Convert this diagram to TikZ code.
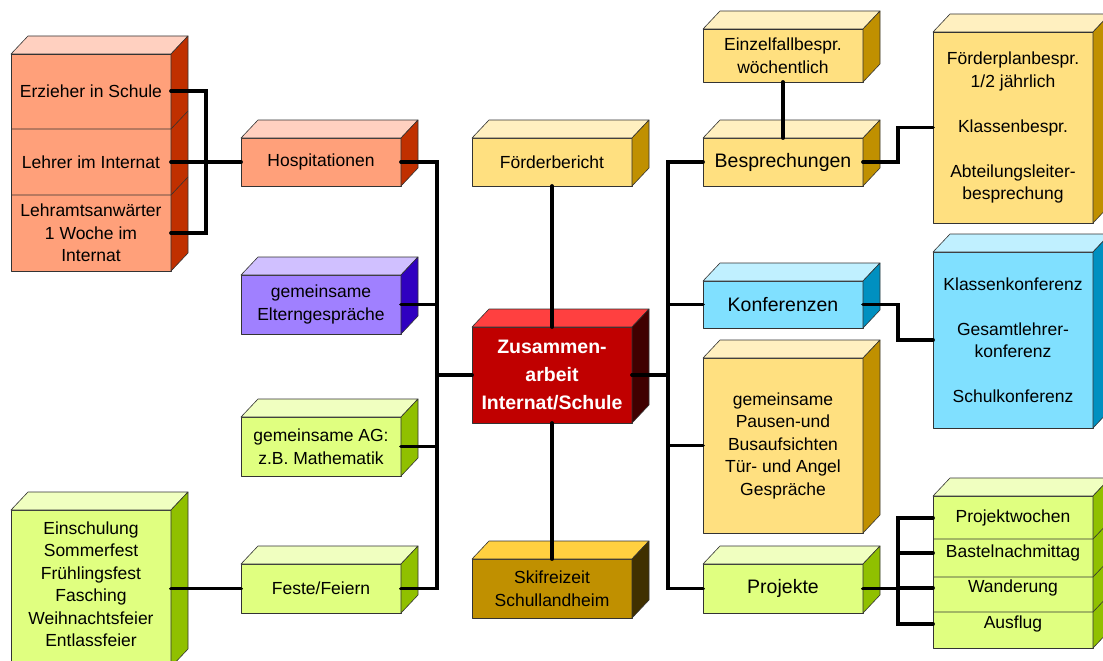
\documentclass[tikz,border=0pt]{standalone}
\usepackage{fontspec}
\setmainfont{Liberation Sans}
\usetikzlibrary{calc}
\definecolor{salF}{RGB}{255,160,122}
\definecolor{salT}{RGB}{255,208,192}
\definecolor{salS}{RGB}{192,48,0}
\definecolor{purF}{RGB}{160,128,255}
\definecolor{purT}{RGB}{208,192,255}
\definecolor{purS}{RGB}{48,0,192}
\definecolor{grnF}{RGB}{224,255,128}
\definecolor{grnT}{RGB}{240,255,192}
\definecolor{grnS}{RGB}{144,192,0}
\definecolor{yelF}{RGB}{255,224,128}
\definecolor{yelT}{RGB}{255,240,192}
\definecolor{yelS}{RGB}{192,144,0}
\definecolor{bluF}{RGB}{128,224,255}
\definecolor{bluT}{RGB}{192,240,255}
\definecolor{bluS}{RGB}{0,144,192}
\definecolor{redF}{RGB}{192,0,0}
\definecolor{redT}{RGB}{255,64,64}
\definecolor{redS}{RGB}{64,0,0}
\definecolor{skiF}{RGB}{192,144,0}
\definecolor{skiT}{RGB}{255,208,64}
\definecolor{skiS}{RGB}{64,48,0}
\tikzset{
  face/.style={draw=black!80, line width=0.6pt, line join=round},
  box/.style={face, rectangle, inner sep=2pt, outer sep=0pt, align=center,
    font=\fontsize{17.5}{22.5}\selectfont, minimum width=160pt},
  bigbox/.style={box, font=\fontsize{19.5}{24}\selectfont},
  txt/.style={rectangle, inner sep=0pt, outer sep=0pt, align=center,
    font=\fontsize{17.5}{22.5}\selectfont, minimum width=160pt},
  link/.style={line width=3.8pt, line cap=round, line join=miter},
}
\newcommand\cubeFaces[3]{%
  \filldraw[face, fill=#2] (#1.north west) -- ++(17,-18) -- ([shift={(17,-18)}]#1.north east) -- (#1.north east) -- cycle;
  \filldraw[face, fill=#3] (#1.north east) -- ++(17,-18) -- ([shift={(17,-18)}]#1.south east) -- (#1.south east) -- cycle;
}
\begin{document}
\begin{tikzpicture}[x=1pt, y=-1pt]
\useasboundingbox (0,0) rectangle (1103,661);

% left stack
\node[box, fill=salF, minimum height=217pt] (lstack) at (91,162.5) {};
\cubeFaces{lstack}{salT}{salS}
\draw[face] (11,129) -- (171,129) -- ++(17,-18);
\draw[face] (11,195) -- (171,195) -- ++(17,-18);
\node[txt] (erz) at (91,91) {Erzieher in Schule};
\node[txt] (leh) at (91,162) {Lehrer im Internat};
\node[txt] (lam) at (91,233) {Lehramtsanwärter\\1 Woche im\\Internat};

\node[box, fill=salF, minimum height=48pt] (hosp) at (321,162) {Hospitationen};
\cubeFaces{hosp}{salT}{salS}
\node[box, fill=purF, minimum height=59pt] (eltern) at (321,304.5) {gemeinsame\\Elterngespräche};
\cubeFaces{eltern}{purT}{purS}
\node[box, fill=grnF, minimum height=59pt] (ag) at (321,446.5) {gemeinsame AG:\\z.B. Mathematik};
\cubeFaces{ag}{grnT}{grnS}
\node[box, fill=grnF, minimum height=49pt] (feste) at (321,588.5) {Feste/Feiern};
\cubeFaces{feste}{grnT}{grnS}
\node[box, fill=grnF, minimum height=157pt] (einsch) at (91,588.5) {};
\cubeFaces{einsch}{grnT}{grnS}
\node[txt] (einschtxt) at (91,584) {Einschulung\\Sommerfest\\Frühlingsfest\\Fasching\\Weihnachtsfeier\\Entlassfeier};

% middle column
\node[box, fill=yelF, minimum height=48pt] (foerd) at (552,162) {Förderbericht};
\cubeFaces{foerd}{yelT}{yelS}
\node[box, fill=redF, minimum height=96pt, text=white,
  font=\fontsize{19.5}{28}\selectfont\bfseries] (center) at (552,375) {Zusammen-\\arbeit\\Internat/Schule};
\cubeFaces{center}{redT}{redS}
\node[box, fill=skiF, minimum height=59pt] (ski) at (552,588.5) {Skifreizeit\\Schullandheim};
\cubeFaces{ski}{skiT}{skiS}

% right column
\node[box, fill=yelF, minimum height=53pt] (einzel) at (783,55.5) {Einzelfallbespr.\\wöchentlich};
\cubeFaces{einzel}{yelT}{yelS}
\node[bigbox, fill=yelF, minimum height=48pt] (besp) at (783,162) {Besprechungen};
\cubeFaces{besp}{yelT}{yelS}
\node[bigbox, fill=bluF, minimum height=47pt] (konf) at (783,304.5) {Konferenzen};
\cubeFaces{konf}{bluT}{bluS}
\node[box, fill=yelF, minimum height=175pt] (pausen) at (783,445.5) {gemeinsame\\Pausen-und\\Busaufsichten\\Tür- und Angel\\Gespräche};
\cubeFaces{pausen}{yelT}{yelS}
\node[bigbox, fill=grnF, minimum height=49pt] (proj) at (783,588.5) {Projekte};
\cubeFaces{proj}{grnT}{grnS}

\node[box, fill=yelF, minimum height=191pt] (fplan) at (1013,127.5) {Förderplanbespr.\\1/2 jährlich\\[22.5pt]Klassenbespr.\\[22.5pt]Abteilungsleiter-\\besprechung};
\cubeFaces{fplan}{yelT}{yelS}
\node[box, fill=bluF, minimum height=176pt] (kkonf) at (1013,340) {Klassenkonferenz\\[22.5pt]Gesamtlehrer-\\konferenz\\[22.5pt]Schulkonferenz};
\cubeFaces{kkonf}{bluT}{bluS}

\node[box, fill=grnF, minimum height=152pt] (pstack) at (1013,572) {};
\cubeFaces{pstack}{grnT}{grnS}
\draw[face] (933,539) -- (1093,539) -- ++(17,-18);
\draw[face] (933,577) -- (1093,577) -- ++(17,-18);
\draw[face] (933,612) -- (1093,612) -- ++(17,-18);
\node[txt] (pw1) at (1013,518) {Projektwochen};
\node[txt] (pw2) at (1013,553) {Bastelnachmittag};
\node[txt] (pw3) at (1013,588) {Wanderung};
\node[txt] (pw4) at (1013,624) {Ausflug};

% connectors
\coordinate (lb) at (437,375);
\coordinate (rb) at (668,375);
\draw[link] (erz.east) -- ++(35,0) |- (lam.east);
\draw[link] (leh.east) -- (hosp.west);
\draw[link] (hosp.east) -| (lb);
\draw[link] (feste.east) -| (lb);
\draw[link] (eltern.east) -- (eltern.east -| lb);
\draw[link] (ag.east) -- (ag.east -| lb);
\draw[link] (lb) -- (center.west);
\draw[link] (einsch.east) -- (feste.west);
\draw[link] (foerd.south) -- (center.north);
\draw[link] (center.south) -- (ski.north);
\draw[link] (center.east) -- (rb);
\draw[link] (besp.west) -| (rb);
\draw[link] (proj.west) -| (rb);
\draw[link] (konf.west) -- (konf.west -| rb);
\draw[link] (pausen.west) -- (pausen.west -| rb);
\draw[link] (einzel.south) -- (besp.north);
\draw[link] (besp.east) -- ++(35,0) |- (fplan.west);
\draw[link] (konf.east) -- ++(35,0) |- (kkonf.west);
\draw[link] (proj.east) -- ++(35,0) coordinate (pj);
\draw[link] (pw1.west) -| (pj) |- (pw4.west);
\draw[link] (pw2.west) -- (pw2.west -| pj);
\draw[link] (pw3.west) -- (pw3.west -| pj);
\end{tikzpicture}
\end{document}
